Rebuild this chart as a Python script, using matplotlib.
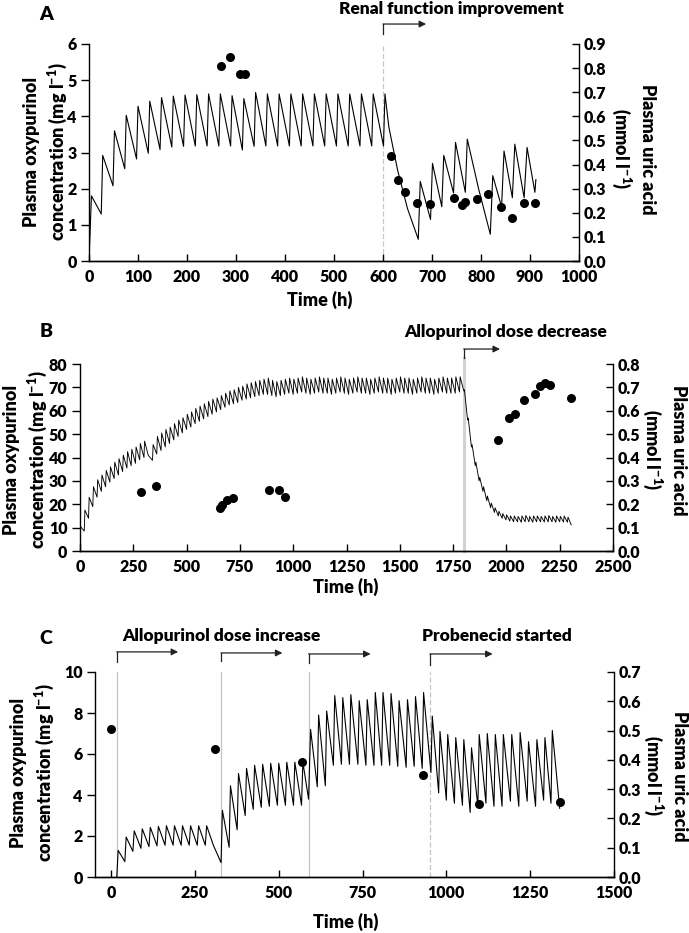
import matplotlib
matplotlib.use('Agg')
import matplotlib.pyplot as plt
import matplotlib.transforms as mtransforms
import numpy as np

WT = 'heavy'
plt.rcParams['font.family'] = ['Lato', 'DejaVu Sans']
plt.rcParams['font.weight'] = WT
plt.rcParams['mathtext.fontset'] = 'custom'
plt.rcParams['mathtext.rm'] = 'Lato:heavy'
plt.rcParams['mathtext.it'] = 'Lato:heavy'
plt.rcParams['mathtext.bf'] = 'Lato:heavy'
plt.rcParams['mathtext.default'] = 'rm'

# ---------------- DATA ----------------
# Panel A: simulated oxypurinol (vertices of the curve), h and mg/l
a_t = [0, 5, 25, 28, 49, 52, 73, 76, 97, 100, 121, 124, 145, 148, 169, 172,
       193, 196, 217, 220, 241, 244, 265, 268, 289, 292, 313, 316, 337, 340,
       361, 364, 385, 388, 409, 412, 433, 436, 457, 460, 481, 484, 505, 508,
       529, 532, 553, 556, 577, 580, 601, 604, 612, 630, 650, 672, 676, 697,
       701, 720, 724, 744, 748, 768, 772, 795, 819, 824, 842, 847, 864, 869,
       888, 894, 910, 912]
a_c = [0, 1.8, 1.3, 2.92, 2.08, 3.6, 2.55, 4.03, 2.82, 4.28, 2.98, 4.42, 3.08,
       4.52, 3.15, 4.56, 3.17, 4.59, 3.18, 4.6, 3.18, 4.62, 3.18, 4.62, 3.18,
       4.57, 3.07, 4.49, 3.17, 4.66, 3.18, 4.62, 3.18, 4.62, 3.18, 4.62, 3.18,
       4.62, 3.18, 4.62, 3.18, 4.62, 3.18, 4.62, 3.18, 4.62, 3.18, 4.62, 3.18,
       4.62, 3.18, 4.62, 3.7, 2.5, 1.45, 0.6, 2.2, 1.15, 2.7, 1.5, 2.92, 1.88,
       3.28, 1.9, 3.37, 2.0, 0.74, 2.36, 1.5, 3.04, 1.75, 3.23, 1.75, 3.14,
       1.9, 2.25]
# Panel A: uric acid (mmol/l)
a_ua_t = [269, 287, 308, 318, 616, 631, 644, 669, 695, 744, 761, 768, 792,
          814, 840, 863, 888, 911]
a_ua = [0.81, 0.845, 0.777, 0.777, 0.435, 0.336, 0.288, 0.24, 0.237, 0.263,
        0.234, 0.244, 0.258, 0.277, 0.226, 0.178, 0.239, 0.24]

# Panel B: oxypurinol, trough (pre-dose) and peak values per dose
b_interval1 = 20      # h, first regimen
b_trough1 = [0, 8.5, 14, 19, 23, 25.5, 27.5, 29.5, 31, 32.5,
             34, 35.5, 36.5, 37.5, 39, 40, 41, 38.8, 41.5, 43,
             44.5, 46, 47.5, 49, 50.5, 52, 53, 54.5, 55.5, 56.5,
             57.5, 58.5, 59.5, 60.5, 61.5, 62.5, 63, 63.5, 64.5, 65,
             65.5, 66, 66.5, 67, 67, 66.5, 66, 66.5, 67,
             67.5, 67, 67.5, 68, 67.5, 67, 67.5, 68, 67.5, 67.5,
             67, 67.5, 68, 67.5, 67, 67.5, 68, 67.5, 67.5, 67,
             67.5, 68, 67.5, 67.5, 67, 67.5, 68, 67.5, 67.5, 67,
             67.5, 68, 67.5, 67.5, 67, 67.5, 68, 67.5, 67.5, 67.5, 68]
b_peak1 = [10.4, 17.5, 23, 27.5, 30.5, 32.5, 34.5, 36, 38, 39.5,
           41, 42.5, 43.5, 44.5, 46, 47, 40.6, 45.5, 49, 50.5,
           52, 53, 54.5, 56, 57, 58.5, 59.5, 61, 62, 63,
           64, 65, 65.5, 66.5, 67.5, 68.5, 69, 70, 70.5, 71.5,
           72, 72.5, 73, 73.5, 74, 73, 72.5, 73, 73.5,
           74, 73.5, 74, 74.5, 74, 73.5, 74, 74.5, 74, 74,
           73.5, 74, 74.5, 74, 73.5, 74, 74.5, 74, 74, 73.5,
           74, 74.5, 74, 74, 73.5, 74, 74.5, 74, 74, 73.5,
           74, 74.5, 74, 74, 73.5, 74, 74.5, 74, 74, 74.5, 74.5]
b_start2 = 1800       # h, dose decrease
b_interval2 = 18
b_trough2 = [68.5, 56, 44.5, 36.5, 30, 25.5, 21.5, 18.5, 16.5, 15, 14, 13.3,
             12.8, 12.5, 12.5, 12.3, 12.5, 12.5, 12.3, 12.5, 12.5, 12.4, 12.5,
             12.5, 12.3, 12.5, 12.4, 12.3]
b_peak2 = [69, 56.8, 45.5, 38, 31.5, 27.5, 23.5, 20.5, 18.5, 17, 16, 15.5, 15,
           15, 14.8, 15, 15.2, 14.8, 15, 15, 14.8, 15, 15.2, 14.8, 15, 14.8,
           15, 14.5]
b_end = (2304, 11.2)
b_ua_t = [285, 357, 657, 668, 690, 718, 888, 934, 961, 1962, 2012, 2038,
          2082, 2132, 2158, 2181, 2206, 2301]
b_ua = [0.252, 0.278, 0.186, 0.196, 0.218, 0.225, 0.26, 0.259, 0.232, 0.474,
        0.57, 0.587, 0.648, 0.672, 0.708, 0.718, 0.709, 0.656]

# Panel C: oxypurinol vertices
c_t = [17, 21, 41, 45, 65, 69, 89, 93, 113, 117, 137, 141, 161, 165, 185, 189,
       209, 213, 233, 237, 257, 261, 281, 285, 305, 328,
       332, 352, 356, 376, 380, 400, 404, 424, 428, 448, 452, 472, 476, 496,
       500, 520, 524, 544, 548, 568, 572, 589,
       595, 615, 619, 639, 643, 663, 667, 687, 691, 711, 715, 736, 740, 760,
       764, 784, 788, 807, 811, 831, 835, 855, 859, 880, 884, 904, 908, 928,
       932, 954,
       958, 977, 981, 1000, 1004, 1024, 1028, 1048, 1052, 1071, 1075, 1094,
       1098, 1118, 1122, 1142, 1146, 1166, 1170, 1191, 1195, 1216, 1220, 1241,
       1245, 1266, 1270, 1290, 1294, 1312, 1316, 1338]
c_c = [0, 1.3, 0.75, 1.95, 1.25, 2.25, 1.4, 2.35, 1.48, 2.42, 1.52, 2.47, 1.55,
       2.5, 1.55, 2.5, 1.55, 2.5, 1.55, 2.5, 1.55, 2.5, 1.55, 2.5, 1.55, 0.7,
       3.25, 1.45, 4.45, 2.3, 5.05, 3.0, 5.3, 3.3, 5.45, 3.4, 5.5, 3.45, 5.55,
       3.5, 5.55, 3.5, 5.6, 3.5, 5.6, 3.5, 5.6, 3.8,
       7.2, 4.4, 7.9, 4.45, 8.1, 5.45, 8.85, 5.5, 8.75, 5.5, 8.9, 5.5, 8.6,
       5.45, 8.65, 5.45, 9.0, 5.45, 9.0, 5.45, 8.95, 5.4, 8.6, 5.35, 8.65, 5.4,
       8.8, 5.3, 9.0, 5.1,
       7.85, 4.1, 7.1, 3.75, 6.95, 3.6, 6.8, 3.5, 6.7, 3.15, 6.3, 3.45, 6.95,
       3.6, 7.0, 3.45, 6.95, 3.45, 6.95, 3.7, 6.95, 3.45, 7.05, 3.7, 6.6, 3.45,
       6.7, 3.75, 6.8, 3.6, 7.15, 3.35]
c_ua_t = [0, 309, 570, 930, 1098, 1338]
c_ua = [0.504, 0.437, 0.392, 0.348, 0.249, 0.257]

# event markers
a_events = [600]
b_events = [1800]
c_events = [17, 328, 589, 951]

# ---------------- FIGURE ----------------
W, H = 689, 933
fig = plt.figure(figsize=(W / 100, H / 100), dpi=100)


def rect(l, r, t, b):
    return [l / W, 1 - b / H, (r - l) / W, (b - t) / H]


def ftext(x, y, s, **kw):
    kw.setdefault('fontweight', WT)
    fig.text(x / W, 1 - y / H, s, **kw)


TICK = 11.5
LAB = 13


def style(ax, ax2):
    for a in (ax, ax2):
        a.spines['top'].set_visible(False)
        for s in a.spines.values():
            s.set_linewidth(1.0)
    ax.spines['right'].set_visible(False)
    ax2.spines['left'].set_visible(False)
    ax.tick_params(axis='y', direction='out', length=6, width=1, pad=3,
                   labelsize=TICK)
    ax.tick_params(axis='x', direction='in', length=5, width=1, pad=6,
                   labelsize=TICK)
    ax2.tick_params(axis='y', direction='in', length=5, width=1, pad=3,
                    labelsize=TICK)
    for lab in ax.get_xticklabels() + ax.get_yticklabels() + ax2.get_yticklabels():
        lab.set_fontweight(WT)


def arrow(ax, x0, x1, ytop, ybot):
    tr = mtransforms.blended_transform_factory(ax.transData, ax.transAxes)
    ax.plot([x0, x0], [ybot, ytop], color='#222222', lw=0.9, transform=tr,
            clip_on=False)
    ax.annotate('', xy=(x1, ytop), xytext=(x0, ytop), xycoords=tr,
                textcoords=tr,
                arrowprops=dict(arrowstyle='-|>', color='#222222', lw=0.9,
                                mutation_scale=10, shrinkA=0, shrinkB=0))


def header(ax, x, y, s):
    tr = mtransforms.blended_transform_factory(ax.transData, ax.transAxes)
    ax.text(x, y, s, transform=tr, ha='center', va='center', fontsize=12.5,
            fontweight=WT, clip_on=False)


ylab = 'Plasma oxypurinol\nconcentration (mg l$^{-1}$)'
rlab = 'Plasma uric acid\n(mmol l$^{-1}$)'

# ---------- Panel A ----------
axA = fig.add_axes(rect(89, 579, 44, 261))
axA2 = axA.twinx()
axA.plot(a_t, a_c, color='black', lw=0.8, zorder=3)
axA.axvline(a_events[0], color='#c8c8c8', lw=0.9, ls=(0, (4, 2)), zorder=1)
axA2.plot(a_ua_t, a_ua, 'o', color='black', ms=6.5, mew=0, zorder=4)
axA.set_xlim(0, 1000)
axA.set_ylim(0, 6)
axA2.set_ylim(0, 0.9)
axA.set_xticks(np.arange(0, 1001, 100))
axA.set_yticks(np.arange(0, 7, 1))
axA2.set_yticks(np.arange(0, 0.91, 0.1))
axA2.set_yticklabels([f'{v:.1f}' for v in np.arange(0, 0.91, 0.1)])
style(axA, axA2)
arrow(axA, 600, 688, 1.092, 1.046)
header(axA, 739, 1.160, 'Renal function improvement')
ftext(46, 15, 'A', fontsize=14, ha='center', va='center')
ftext(46, 152, ylab, rotation=90, ha='center', va='center', fontsize=LAB,
      multialignment='center', linespacing=1.25)
ftext(633, 149, rlab, rotation=-90, ha='center', va='center', fontsize=LAB,
      multialignment='center', linespacing=1.25)
ftext(320, 300, 'Time (h)', ha='center', va='center', fontsize=LAB)

# ---------- Panel B ----------
axB = fig.add_axes(rect(80, 613, 364, 551))
axB2 = axB.twinx()
bt, bc = [], []
for k, (tr_, pk) in enumerate(zip(b_trough1, b_peak1)):
    bt += [k * b_interval1, k * b_interval1 + 3]
    bc += [tr_, pk]
for j, (tr_, pk) in enumerate(zip(b_trough2, b_peak2)):
    bt += [b_start2 + j * b_interval2, b_start2 + j * b_interval2 + 3]
    bc += [tr_, pk]
bt.append(b_end[0])
bc.append(b_end[1])
axB.plot(bt, bc, color='black', lw=0.65, zorder=3)
axB.axvline(b_events[0], ymin=0, ymax=1.03, color='#d2d2d2', lw=2.2, zorder=1,
            clip_on=False)
axB2.plot(b_ua_t, b_ua, 'o', color='black', ms=6.5, mew=0, zorder=4)
axB.set_xlim(0, 2500)
axB.set_ylim(0, 80)
axB2.set_ylim(0, 0.8)
axB.set_xticks(np.arange(0, 2501, 250))
axB.set_yticks(np.arange(0, 81, 10))
axB2.set_yticks(np.arange(0, 0.81, 0.1))
axB2.set_yticklabels([f'{v:.1f}' for v in np.arange(0, 0.81, 0.1)])
style(axB, axB2)
arrow(axB, 1800, 1970, 1.080, 1.03)
header(axB, 1997, 1.171, 'Allopurinol dose decrease')
ftext(46, 332, 'B', fontsize=14, ha='center', va='center')
ftext(26, 460, ylab, rotation=90, ha='center', va='center', fontsize=LAB,
      multialignment='center', linespacing=1.25)
ftext(664, 450, rlab, rotation=-90, ha='center', va='center', fontsize=LAB,
      multialignment='center', linespacing=1.25)
ftext(346, 587, 'Time (h)', ha='center', va='center', fontsize=LAB)

# ---------- Panel C ----------
axC = fig.add_axes(rect(95, 614, 672, 877))
axC2 = axC.twinx()
axC.plot(c_t, c_c, color='black', lw=0.8, zorder=3)
for i, ev in enumerate(c_events):
    axC.axvline(ev, color='#c4c4c4', lw=0.9,
                ls=(0, (4, 2)) if i == 3 else '-', zorder=1)
axC2.plot(c_ua_t, c_ua, 'o', color='black', ms=6.5, mew=0, zorder=4)
axC.set_xlim(-48, 1500)
axC.set_ylim(0, 10)
axC2.set_ylim(0, 0.7)
axC.set_xticks(np.arange(0, 1501, 250))
axC.set_yticks(np.arange(0, 11, 2))
axC2.set_yticks(np.arange(0, 0.71, 0.1))
axC2.set_yticklabels([f'{v:.1f}' for v in np.arange(0, 0.71, 0.1)])
style(axC, axC2)
arrow(axC, 17, 200, 1.098, 1.049)
arrow(axC, 328, 511, 1.093, 1.054)
arrow(axC, 589, 774, 1.088, 1.044)
arrow(axC, 951, 1138, 1.088, 1.034)
header(axC, 329, 1.176, 'Allopurinol dose increase')
header(axC, 1150, 1.176, 'Probenecid started')
ftext(46, 638, 'C', fontsize=14, ha='center', va='center')
ftext(33, 773, ylab, rotation=90, ha='center', va='center', fontsize=LAB,
      multialignment='center', linespacing=1.25)
ftext(665, 776, rlab, rotation=-90, ha='center', va='center', fontsize=LAB,
      multialignment='center', linespacing=1.25)
ftext(346, 922, 'Time (h)', ha='center', va='center', fontsize=LAB)

fig.savefig('out.png', dpi=100)
